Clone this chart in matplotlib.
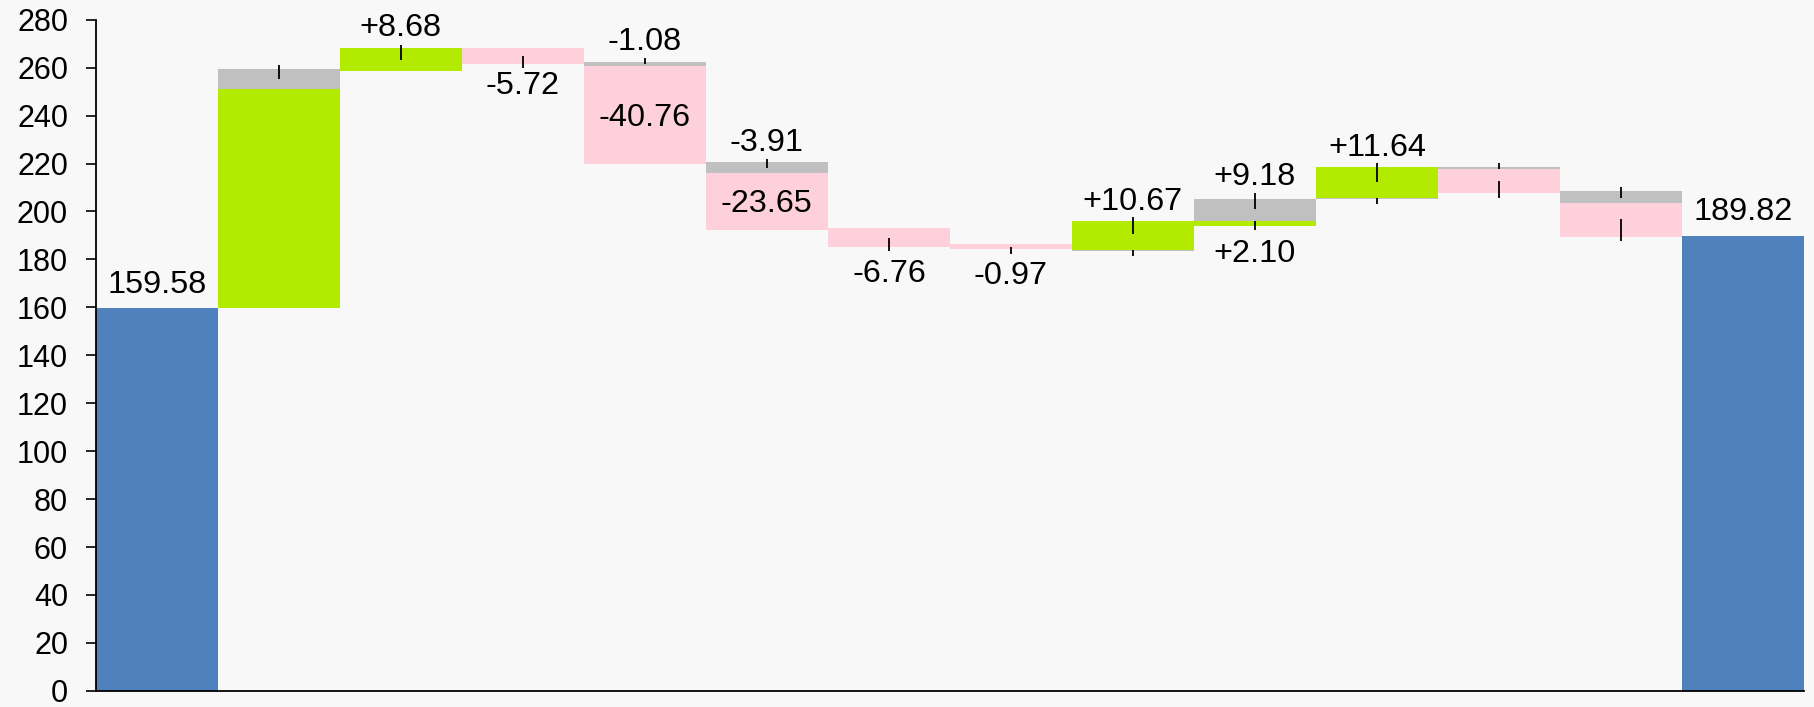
import matplotlib
matplotlib.use("Agg")
from matplotlib import pyplot as plt

plt.rcParams['font.family'] = ['Liberation Sans', 'DejaVu Sans']

# totals at both ends
total_x = [0, 13]
total_val = [159.58, 189.82]

# coloured change segments: (bar index, low, high, kind)
change_x = [1, 2, 3, 4, 5, 6, 7, 8, 9, 10, 11, 12]
change_lo = [159.58, 258.8, 261.6, 219.9, 192.2, 185.2, 184.5, 184.1, 194.0, 205.6, 207.6, 189.5]
change_hi = [251.0, 268.2, 268.2, 260.5, 215.9, 192.9, 186.3, 195.9, 195.9, 218.4, 217.6, 203.4]
change_kind = ["up", "up", "down", "down", "down", "down", "down", "up", "up", "up", "down", "down"]

# grey segments
grey_x = [1, 4, 5, 8, 9, 10, 11, 12]
grey_lo = [251.0, 260.5, 215.9, 183.5, 195.9, 205.0, 217.6, 203.4]
grey_hi = [259.3, 262.2, 220.5, 184.1, 205.1, 205.6, 218.4, 208.4]

# uncertainty whiskers
err_x = [1, 2, 3, 4, 5, 6, 7, 8, 8, 9, 9, 10, 10, 11, 11, 12, 12]
err_lo = [255.1, 263.3, 259.7, 261.5, 218.2, 183.4, 182.3, 190.4, 181.4, 201.2, 192.2,
          212.3, 203.3, 217.9, 205.6, 205.6, 187.6]
err_hi = [261.2, 269.6, 264.9, 264.2, 221.8, 189.0, 185.1, 197.6, 184.1, 207.8, 195.9,
          220.2, 205.6, 220.2, 212.6, 210.0, 196.7]

# value labels (baseline in data units)
label_x = [0, 2, 3, 4, 4, 5, 5, 6, 7, 8, 9, 9, 10, 13]
label_y = [166.0, 273.2, 249.2, 267.3, 235.6, 225.3, 199.6, 170.7, 169.6, 200.6, 211.0, 178.8, 223.1, 196.4]
label_text = ["159.58", "+8.68", "-5.72", "-1.08", "-40.76", "-3.91", "-23.65", "-6.76",
              "-0.97", "+10.67", "+9.18", "+2.10", "+11.64", "189.82"]

colors = {"up": "#b2eb00", "down": "#fdd0dc"}
bg = "#f8f8f8"

fig = plt.figure(figsize=(18.14, 7.07), dpi=100, facecolor=bg)
ax = fig.add_axes([0.0528, 0.0229, 0.9417, 0.9492])
ax.set_facecolor(bg)

ax.bar(total_x, total_val, width=1.0, color="#4f81bd", zorder=2)
ax.bar(change_x, [h - l for l, h in zip(change_lo, change_hi)], bottom=change_lo, width=1.0,
       color=[colors[k] for k in change_kind], zorder=2)
ax.bar(grey_x, [h - l for l, h in zip(grey_lo, grey_hi)], bottom=grey_lo, width=1.0,
       color="#c0c0c0", zorder=2)
ax.vlines(err_x, err_lo, err_hi, color="black", linewidth=1.3, zorder=3)

for x, y, t in zip(label_x, label_y, label_text):
    ax.text(x, y, t, ha="center", va="baseline", fontsize=23.3, color="black", zorder=4)

ax.set_xlim(-0.5, 13.5)
ax.set_ylim(0, 280)
ax.set_yticks(range(0, 281, 20))
ax.set_xticks([])
ax.tick_params(axis="y", direction="out", length=7, width=1.2, pad=13, labelsize=22)
for s in ["top", "right"]:
    ax.spines[s].set_visible(False)
for s in ["left", "bottom"]:
    ax.spines[s].set_linewidth(1.3)
    ax.spines[s].set_zorder(5)

fig.savefig("out.png", dpi=100, facecolor=bg)
